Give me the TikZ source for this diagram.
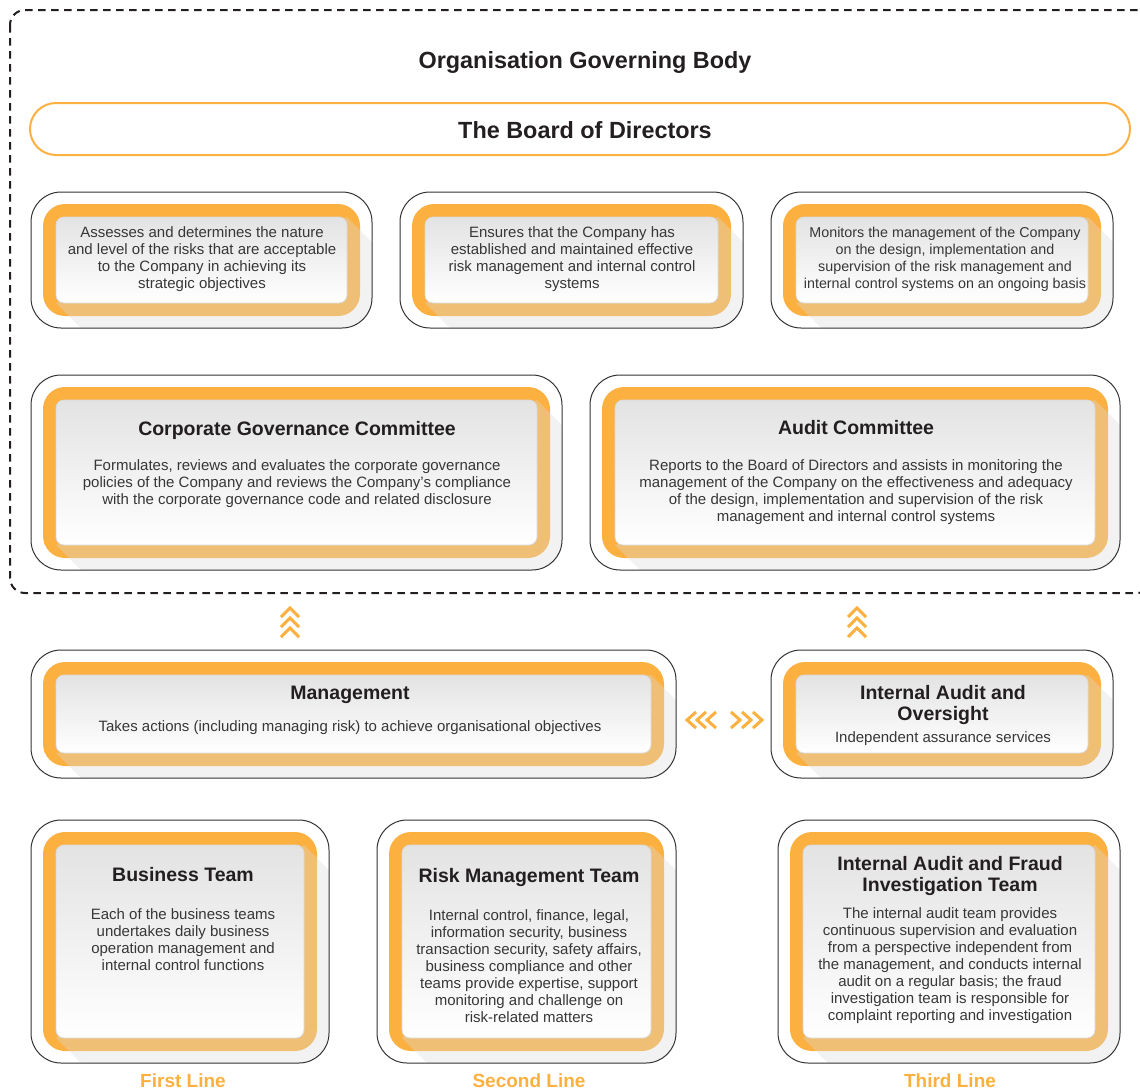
\documentclass[tikz,border=0pt]{standalone}
\usepackage{fontspec}
\setmainfont{Liberation Sans}
\definecolor{rim}{RGB}{251,176,64}
\definecolor{ink}{RGB}{35,31,32}
\definecolor{bodyink}{RGB}{55,55,55}

% 卡片: 左上 (#1,#2), 右下 (#3,#4)
\newcommand{\card}[4]{%
  \fill[rim, rounded corners=22] ({#1+12},{#2+12}) rectangle ({#3-12},{#4-12});
  \begin{scope}
    \clip[rounded corners=30] (#1,#2) rectangle (#3,#4);
    \fill[cardshade] ({#3-25},{#2+25}) -- ({#1+25},{#4-25}) -- ++(400,400) -- ({#3+375},{#2+425}) -- cycle;
  \end{scope}
  \shadedraw[cardpanel] ({#1+25},{#2+25}) rectangle ({#3-25},{#4-25});
  \draw[cardline] (#1,#2) rectangle (#3,#4);
}

\begin{document}
\begin{tikzpicture}[x=1pt, y=-1pt,
    every node/.style={inner sep=0pt, align=center},
    cardline/.style={draw=black!80, line width=1pt, rounded corners=30},
    cardpanel/.style={rounded corners=8, top color=black!11, bottom color=white, draw=black!15, line width=0.8pt},
    cardshade/.style={fill=black!14, opacity=0.35},
    chev/.style={draw=rim, line width=3pt},
    bigtitle/.style={font=\fontsize{23.4}{27}\selectfont\bfseries, text=ink},
    headtext/.style={font=\fontsize{19.5}{21.5}\selectfont\bfseries, text=ink},
    bodytext/.style={font=\fontsize{15}{17}\selectfont, text=bodyink},
    linelabel/.style={font=\fontsize{19}{22}\selectfont\bfseries, text=rim}]
  \useasboundingbox (0,0) rectangle (1140,1090);

  % 外框 (虚线)
  \draw[ink, line width=2pt, dash pattern=on 7.5pt off 5.5pt, rounded corners=15] (10,10) rectangle (1152,593);
  \node[bigtitle] (body) at (585,62) {Organisation Governing Body};

  % 董事会
  \draw[rim, line width=2pt, rounded corners=26] (30,103) rectangle (1130,155);
  \node[bigtitle] (board) at (585,130) {The Board of Directors};

  % 第一排
  \card{31}{192}{372}{328}
  \card{400}{192}{743}{328}
  \card{771}{192}{1113}{328}
  \node[bodytext] (riskA) at (202,259) {Assesses and determines the nature\\and level of the risks that are acceptable\\to the Company in achieving its\\strategic objectives};
  \node[bodytext] (riskB) at (572,259) {Ensures that the Company has\\established and maintained effective\\risk management and internal control\\systems};
  \node[bodytext, font=\fontsize{14.3}{17}\selectfont] (riskC) at (945,259) {Monitors the management of the Company\\on the design, implementation and\\supervision of the risk management and\\internal control systems on an ongoing basis};

  % 委员会
  \card{31}{375}{562}{570}
  \card{590}{375}{1120}{570}
  \node[headtext] (cgc) at (297,430) {Corporate Governance Committee};
  \node[bodytext] (cgcText) at (297,484) {Formulates, reviews and evaluates the corporate governance\\policies of the Company and reviews the Company's compliance\\with the corporate governance code and related disclosure};
  \node[headtext] (ac) at (856,428) {Audit Committee};
  \node[bodytext] (acText) at (856,492) {Reports to the Board of Directors and assists in monitoring the\\management of the Company on the effectiveness and adequacy\\of the design, implementation and supervision of the risk\\management and internal control systems};

  % 向上箭头
  \foreach \x in {290,857}
    \foreach \y in {608,618,628}
      \draw[chev] ({\x-9},{\y+9}) -- (\x,\y) -- ({\x+9},{\y+9});

  % 管理层
  \card{31}{650}{676}{778}
  \card{771}{650}{1113}{778}
  \node[headtext] (mgmt) at (350,695) {Management};
  \node[bodytext] (mgmtText) at (350,728) {Takes actions (including managing risk) to achieve organisational objectives};
  \node[headtext] (iao) at (943,705) {Internal Audit and\\Oversight};
  \node[bodytext] (iaoText) at (943,739) {Independent assurance services};

  % 左右箭头
  \foreach \x in {687,697,707}
    \draw[chev] ({\x+9},712) -- (\x,720) -- ({\x+9},728);
  \foreach \x in {740,751,762}
    \draw[chev] ({\x-9},712) -- (\x,720) -- ({\x-9},728);

  % 三道防线
  \card{31}{820}{329}{1063}
  \card{377}{820}{676}{1063}
  \card{778}{820}{1120}{1063}
  \node[headtext] (bt) at (183,875) {Business Team};
  \node[bodytext] (btText) at (183,940) {Each of the business teams\\undertakes daily business\\operation management and\\internal control functions};
  \node[headtext] (rmt) at (529,877) {Risk Management Team};
  \node[bodytext] (rmtText) at (529,966) {Internal control, finance, legal,\\information security, business\\transaction security, safety affairs,\\business compliance and other\\teams provide expertise, support\\monitoring and challenge on\\risk-related matters};
  \node[headtext] (iaf) at (950,876) {Internal Audit and Fraud\\Investigation Team};
  \node[bodytext] (iafText) at (950,966) {The internal audit team provides\\continuous supervision and evaluation\\from a perspective independent from\\the management, and conducts internal\\audit on a regular basis; the fraud\\investigation team is responsible for\\complaint reporting and investigation};

  \node[linelabel] (line1) at (183,1081) {First Line};
  \node[linelabel] (line2) at (529,1081) {Second Line};
  \node[linelabel] (line3) at (950,1081) {Third Line};
\end{tikzpicture}
\end{document}
